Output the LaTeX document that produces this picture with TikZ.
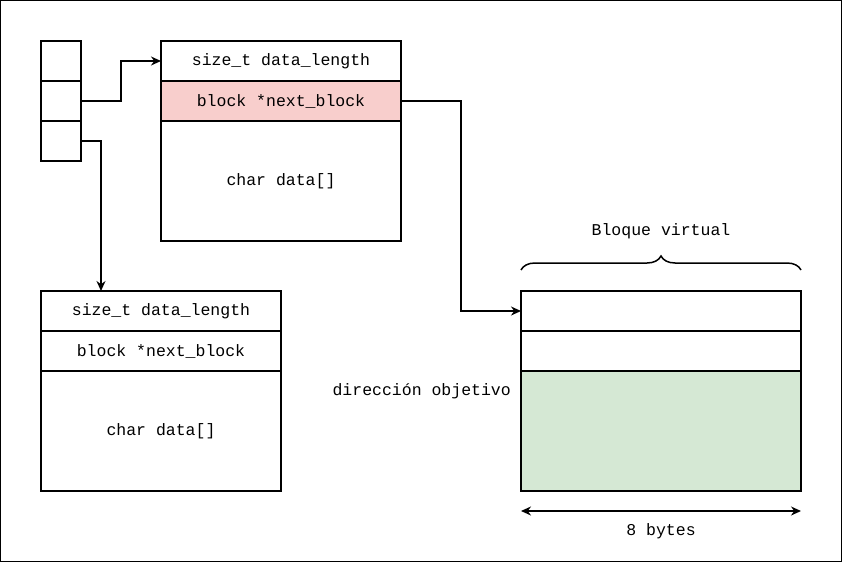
\documentclass[tikz,border=0pt]{standalone}
\usepackage{fontspec}
\setmonofont{Liberation Mono}
\usetikzlibrary{arrows.meta,positioning,decorations.pathreplacing}
\definecolor{nextred}{HTML}{F8CECC}
\definecolor{virtgreen}{HTML}{D5E8D4}
\tikzset{%
  field/.style={rectangle,draw=black,line width=1.5pt,minimum width=240pt,minimum height=40pt,inner sep=0pt,outer sep=0pt,font=\ttfamily\fontsize{16.5}{18}\selectfont},
  slot/.style={rectangle,draw=black,line width=1.5pt,minimum width=40pt,minimum height=40pt,inner sep=0pt,outer sep=0pt},
  label/.style={font=\ttfamily\fontsize{16.5}{18}\selectfont,inner sep=0pt},
  link/.style={draw=black,line width=1.5pt,-{Stealth[length=10pt,width=9pt]}}%
}
\begin{document}
\begin{tikzpicture}[x=1pt,y=-1pt]
  \useasboundingbox (0,0) rectangle (842,562);
  \draw[line width=1pt] (0.5,0.5) rectangle (841.5,561.5);

  % small table
  \node[slot,anchor=north west] (slot_a) at (41,41) {};
  \node[slot,below=0pt of slot_a] (slot_b) {};
  \node[slot,below=0pt of slot_b] (slot_c) {};

  % first block
  \node[field,anchor=north west] (blk_len) at (161,41) {size\_t data\_length};
  \node[field,below=0pt of blk_len,fill=nextred] (blk_next) {block *next\_block};
  \node[field,below=0pt of blk_next,minimum height=120pt] (blk_data) {char data[]};

  % second block
  \node[field,anchor=north west] (sec_len) at (41,291) {size\_t data\_length};
  \node[field,below=0pt of sec_len] (sec_next) {block *next\_block};
  \node[field,below=0pt of sec_next,minimum height=120pt] (sec_data) {char data[]};

  % virtual block
  \node[field,anchor=north west,minimum width=280pt] (virt_a) at (521,291) {};
  \node[field,below=0pt of virt_a,minimum width=280pt] (virt_b) {};
  \node[field,below=0pt of virt_b,minimum width=280pt,minimum height=120pt,fill=virtgreen] (virt_c) {};

  \node[label] (virt_title) at (661,231) {Bloque virtual};
  \node[label,anchor=east] (target) at (511,391) {dirección objetivo};
  \node[label] (width_lbl) at (661,531) {8 bytes};

  \coordinate (brace_l) at (521,270);
  \coordinate (brace_r) at (801,270);
  \draw[line width=1.5pt,decorate,decoration={brace,amplitude=14pt}] (brace_l) -- (brace_r);

  \coordinate (span_l) at (521,511);
  \coordinate (span_r) at (801,511);
  \draw[line width=1.5pt,{Stealth[length=10pt,width=9pt]}-{Stealth[length=10pt,width=9pt]}] (span_l) -- (span_r);

  \draw[link] (slot_b.east) -- ++(40,0) |- (blk_len.west);
  \draw[link] (slot_c.east) -| ([xshift=-60pt]sec_len.north);
  \draw[link] (blk_next.east) -- ++(60,0) |- (virt_a.west);
\end{tikzpicture}
\end{document}
